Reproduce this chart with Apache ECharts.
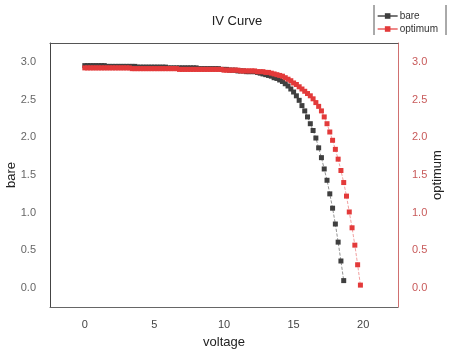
<!DOCTYPE html>
<html>
<head>
<meta charset="utf-8">
<script src="https://cdn.jsdelivr.net/npm/echarts@6/dist/echarts.min.js"></script>
<style>
html,body{margin:0;padding:0;background:#fff;}
#chart{width:451px;height:357px;}
</style>
</head>
<body>
<div id="chart"></div>
<script>
// voltage steps (V)
var voltage = [0.0,0.2,0.4,0.6,0.8,1.0,1.2,1.4,1.6,1.8,2.0,2.2,2.4,2.6,2.8,3.0,3.2,3.4,3.6,3.8,
	4.0,4.2,4.4,4.6,4.8,5.0,5.2,5.4,5.6,5.8,6.0,6.2,6.4,6.6,6.8,7.0,7.2,7.4,7.6,7.8,
	8.0,8.2,8.4,8.6,8.8,9.0,9.2,9.4,9.6,9.8,10.0,10.2,10.4,10.6,10.8,11.0,11.2,11.4,11.6,11.8,
	12.0,12.2,12.4,12.6,12.8,13.0,13.2,13.4,13.6,13.8,14.0,14.2,14.4,14.6,14.8,15.0,15.2,15.4,15.6,15.8,
	16.0,16.2,16.4,16.6,16.8,17.0,17.2,17.4,17.6,17.8,18.0,18.2,18.4,18.6,18.8,19.0,19.2,19.4,19.6,19.8];
var bareCurrent = [2.95,2.95,2.95,2.95,2.95,2.95,2.95,2.95,2.94,2.94,2.94,2.94,2.94,2.94,2.94,2.94,2.94,2.94,2.94,2.93,
	2.93,2.93,2.93,2.93,2.93,2.93,2.93,2.93,2.93,2.93,2.92,2.92,2.92,2.92,2.92,2.92,2.92,2.92,2.92,2.92,
	2.92,2.91,2.91,2.91,2.91,2.91,2.91,2.91,2.91,2.90,2.90,2.90,2.89,2.89,2.89,2.88,2.88,2.88,2.87,2.87,
	2.87,2.87,2.86,2.85,2.84,2.83,2.82,2.81,2.79,2.78,2.76,2.74,2.71,2.68,2.64,2.60,2.55,2.49,2.42,2.35,
	2.27,2.18,2.09,1.99,1.86,1.73,1.58,1.43,1.25,1.06,0.85,0.61,0.36,0.10];
var optimumCurrent = [2.92,2.92,2.92,2.92,2.92,2.92,2.92,2.92,2.92,2.92,2.92,2.92,2.92,2.92,2.92,2.92,2.92,2.91,2.91,2.91,
	2.91,2.91,2.91,2.91,2.91,2.91,2.91,2.91,2.91,2.91,2.91,2.91,2.91,2.91,2.90,2.90,2.90,2.90,2.90,2.90,
	2.90,2.90,2.90,2.90,2.90,2.90,2.90,2.90,2.90,2.90,2.89,2.89,2.89,2.89,2.89,2.89,2.88,2.88,2.88,2.88,
	2.88,2.88,2.87,2.87,2.87,2.86,2.86,2.85,2.84,2.83,2.82,2.81,2.79,2.77,2.75,2.72,2.70,2.67,2.64,2.61,
	2.58,2.55,2.51,2.46,2.41,2.35,2.27,2.18,2.07,1.96,1.84,1.71,1.56,1.40,1.22,1.01,0.80,0.57,0.31,0.04];
var xTicks = [0,5,10,15,20];
var yTicks = [0,0.5,1,1.5,2,2.5,3];

function pairs(xs, ys) {
	var out = [];
	for (var i = 0; i < ys.length; i++) out.push([xs[i], ys[i]]);
	return out;
}

var chart = echarts.init(document.getElementById('chart'));
var font = 'Liberation Sans, Arial, sans-serif';
var option = {
	animation: false,
	textStyle: {fontFamily: font},
	title: {
		text: 'IV Curve', left: 232, top: 10, textAlign: 'center',
		textStyle: {fontSize: 13, fontWeight: 'normal', color: '#222', fontFamily: font}
	},
	legend: {
		orient: 'vertical', right: 8, top: 6,
		itemWidth: 20, itemHeight: 7, itemGap: 3,
		textStyle: {fontSize: 10, color: '#333', fontFamily: font, padding: [0, 0, 0, -3]},
		data: ['bare', 'optimum']
	},
	graphic: [
		{type: 'line', shape: {x1: 374, y1: 5, x2: 374, y2: 35}, style: {stroke: '#555', lineWidth: 1}},
		{type: 'line', shape: {x1: 446, y1: 5, x2: 446, y2: 35}, style: {stroke: '#555', lineWidth: 1}}
	],
	grid: {left: 50, right: 53, top: 43, bottom: 50, outerBoundsMode: 'none'},
	xAxis: [{
		type: 'value', min: -2.5, max: 22.5,
		name: 'voltage', nameLocation: 'middle', nameGap: 29, nameMoveOverlap: false,
		nameTextStyle: {fontSize: 13, color: '#222'},
		axisLine: {onZero: false, lineStyle: {color: '#666'}},
		axisTick: {show: false},
		splitLine: {show: false},
		axisLabel: {customValues: xTicks, fontSize: 11, color: '#444', margin: 12}
	}, {
		type: 'value', position: 'top', min: -2.5, max: 22.5,
		axisLine: {show: true, onZero: false, lineStyle: {color: '#555'}},
		axisTick: {show: false}, axisLabel: {show: false}, splitLine: {show: false}
	}],
	yAxis: [{
		type: 'value', min: -0.25, max: 3.25,
		name: 'bare', nameLocation: 'middle', nameGap: 32, nameRotate: 90, nameMoveOverlap: false,
		nameTextStyle: {fontSize: 13, color: '#222'},
		axisLine: {show: true, onZero: false, lineStyle: {color: '#444'}},
		axisTick: {show: false},
		splitLine: {show: false},
		axisLabel: {customValues: yTicks, fontSize: 11, color: '#666', margin: 14,
			formatter: function (v) { return v.toFixed(1); }}
	}, {
		type: 'value', position: 'right', min: -0.25, max: 3.25,
		name: 'optimum', nameLocation: 'middle', nameGap: 33, nameRotate: 90, nameMoveOverlap: false,
		nameTextStyle: {fontSize: 13, color: '#222'},
		axisLine: {show: true, onZero: false, lineStyle: {color: '#d07070'}},
		axisTick: {show: false},
		splitLine: {show: false},
		axisLabel: {customValues: yTicks, fontSize: 11, color: '#c85a5a', margin: 14,
			formatter: function (v) { return v.toFixed(1); }}
	}],
	series: [{
		name: 'bare', type: 'line', xAxisIndex: 0, yAxisIndex: 0,
		data: pairs(voltage, bareCurrent),
		symbol: 'rect', symbolSize: 5,
		itemStyle: {color: '#3f3f3f'},
		lineStyle: {color: '#777', width: 0.8, type: 'dashed'}
	}, {
		name: 'optimum', type: 'line', xAxisIndex: 0, yAxisIndex: 1,
		data: pairs(voltage, optimumCurrent),
		symbol: 'rect', symbolSize: 5,
		itemStyle: {color: '#e33a3a'},
		lineStyle: {color: '#e88', width: 0.8, type: 'dashed'}
	}]
};
chart.setOption(option);
</script>
</body>
</html>
